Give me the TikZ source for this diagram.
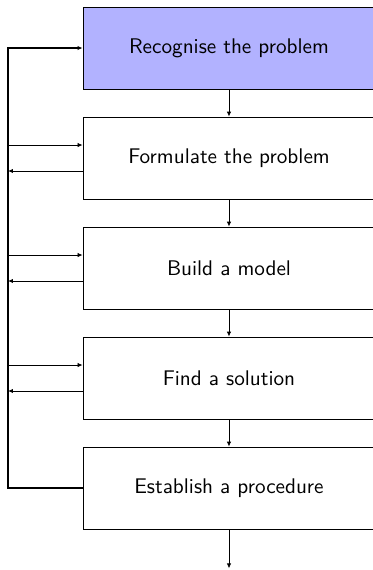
\documentclass[tikz,border=0pt]{standalone}
\usetikzlibrary{positioning,arrows.meta}
\tikzset{
  stage/.style={draw, minimum width=146pt, minimum height=41pt,
    font=\sffamily\fontsize{10.6}{12.7}\selectfont},
  flow/.style={-{Latex[length=2.5pt,width=2.2pt]}},
}
\begin{document}
\begin{tikzpicture}[node distance=13.6pt]
\useasboundingbox (-114.5pt,24pt) rectangle (72pt,-261pt);
\node [stage, fill=blue!30] (rec) {Recognise the problem};
\node [stage, below=of rec] (form) {Formulate the problem};
\node [stage, below=of form] (build) {Build a model};
\node [stage, below=of build] (find) {Find a solution};
\node [stage, below=of find] (estab) {Establish a procedure};
\coordinate [below=19.5pt of estab.south] (out);
\coordinate (fb) at (-110.5pt,0pt);
% main chain
\draw [flow] (rec) -- (form);
\draw [flow] (form) -- (build);
\draw [flow] (build) -- (find);
\draw [flow] (find) -- (estab);
\draw [flow] (estab) -- (out);
% feedback
\draw [flow, semithick] (estab.west) -| (fb) -- (rec.west);
\draw [flow] ([yshift=6.5pt]form.west -| fb) -- ([yshift=6.5pt]form.west);
\draw [flow] ([yshift=-6.5pt]form.west) -- ([yshift=-6.5pt]form.west -| fb);
\draw [flow] ([yshift=6.5pt]build.west -| fb) -- ([yshift=6.5pt]build.west);
\draw [flow] ([yshift=-6.5pt]build.west) -- ([yshift=-6.5pt]build.west -| fb);
\draw [flow] ([yshift=6.5pt]find.west -| fb) -- ([yshift=6.5pt]find.west);
\draw [flow] ([yshift=-6.5pt]find.west) -- ([yshift=-6.5pt]find.west -| fb);
\end{tikzpicture}
\end{document}
